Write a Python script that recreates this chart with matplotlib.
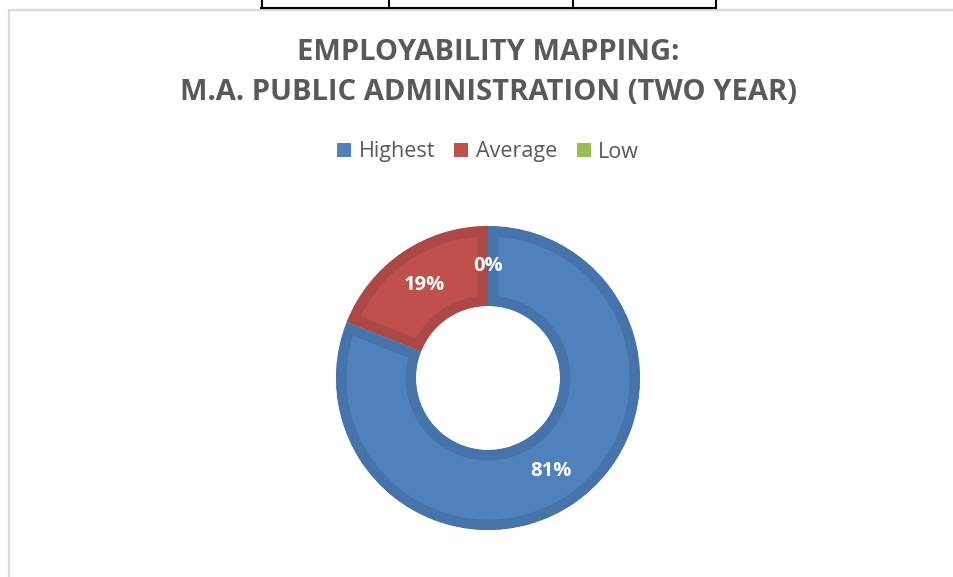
import matplotlib.pyplot as plt
from matplotlib.patches import Patch

labels = ['Highest', 'Average', 'Low']
values = [81, 19, 0]
fills = ['#4f81bd', '#c0504d', '#9bbb59']
edges = ['#4673aa', '#ac4845', '#8aa94e']

W, H = 954, 577
fig = plt.figure(figsize=(W / 100, H / 100), dpi=100)

# frame of the chart area and the table lines above it
frame = fig.add_axes([0, 0, 1, 1])
frame.set_xlim(0, W)
frame.set_ylim(H, 0)
frame.axis('off')
frame.plot([9, 9, W + 5], [H + 5, 10, 10], color='#d9d9d9', lw=1.6)
for x in [262, 389, 573, 716]:
    frame.plot([x, x], [0, 8], color='black', lw=1.5)
frame.plot([261.5, 716.5], [8, 8], color='black', lw=1.5)

# donut
cx, cy, r = 488, 378, 152
half = 160
ax = fig.add_axes([(cx - half) / W, (H - cy - half) / H, 2 * half / W, 2 * half / H])
wedges, texts, pcts = ax.pie(values, colors=fills, startangle=90, counterclock=False,
                             radius=1, autopct='%d%%', pctdistance=0.74,
                             wedgeprops=dict(width=80 / r, linewidth=15, joinstyle='miter'),
                             textprops=dict(color='white', fontsize=14.5, fontweight='bold',
                                            family='Open Sans'))
for w, ec in zip(wedges, edges):
    w.set_edgecolor(ec)
    w.set_clip_on(True)
    w.set_clip_path(w)
ax.set_xlim(-half / r, half / r)
ax.set_ylim(-half / r, half / r)
ax.set_aspect('equal')
ax.axis('off')

fig.text(cx / W, 1 - 53 / H, 'EMPLOYABILITY MAPPING:', ha='center', va='center',
         fontsize=21, fontweight='bold', color='#595959', family='Open Sans')
fig.text(cx / W, 1 - 92 / H, 'M.A. PUBLIC ADMINISTRATION (TWO YEAR)', ha='center', va='center',
         fontsize=21, fontweight='bold', color='#595959', family='Open Sans')

handles = [Patch(facecolor=c, edgecolor='none') for c in fills]
leg = fig.legend(handles, labels, loc='center', bbox_to_anchor=(cx / W, 1 - 152 / H), ncol=3,
                 frameon=False, handlelength=0.65, handleheight=0.65, handletextpad=0.35,
                 columnspacing=0.9, prop=dict(family='Open Sans', size=15.5))
for t in leg.get_texts():
    t.set_color('#595959')

fig.savefig('out.png', dpi=100)
